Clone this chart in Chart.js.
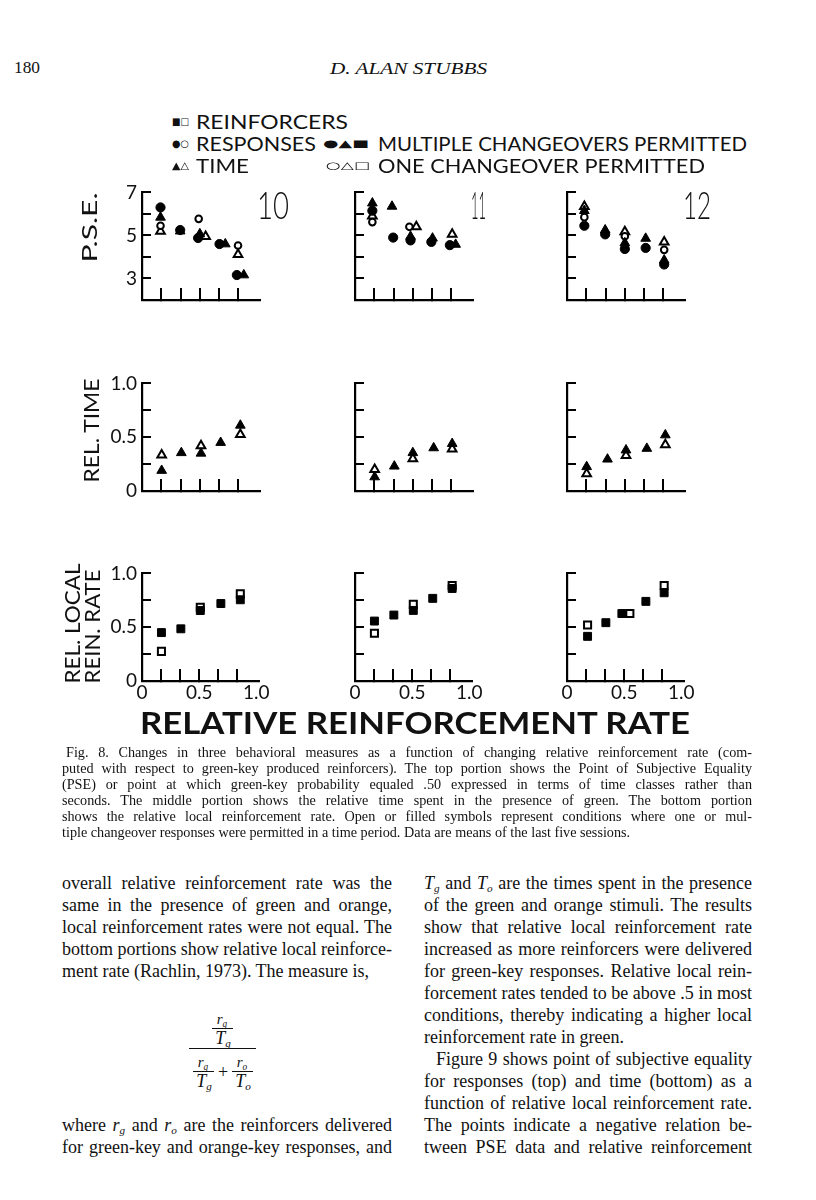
<!DOCTYPE html>
<html><head><meta charset="utf-8">
<script src="https://cdn.jsdelivr.net/npm/chart.js@4"></script>
<style>
html,body{margin:0;padding:0;background:#fff;}
#page{position:relative;width:816px;height:1200px;background:#fff;overflow:hidden;color:#111;}
.t{position:absolute;white-space:nowrap;}
.t sub{font-size:0.62em;vertical-align:-0.3em;line-height:0;font-style:italic;}
.bar{position:absolute;height:1px;background:#111;}
canvas{position:absolute;}
</style></head>
<body><div id="page"></div>
<script>
// ---------------- DATA ----------------
const subjects = ['10', '11', '12'];
const xTickValues = [0, 0.1667, 0.3333, 0.5, 0.6667, 0.8333, 1.0];
const xTickLabels = ['0', '', '', '0.5', '', '', '1.0'];
const pseTickValues = [2, 3, 4, 5, 6, 7];
const pseTickLabels = ['', '3', '', '5', '', '7'];
const relTickValues = [0, 0.25, 0.5, 0.75, 1.0];
const relTickLabels = ['0', '', '0.5', '', '1.0'];

// P.S.E. (top row) : [relative reinforcement rate, PSE]
const s10PseRespMulti = [[0.16,6.30],[0.33,5.25],[0.485,4.88],[0.67,4.60],[0.82,3.16]];
const s10PseRespOne   = [[0.16,5.45],[0.49,5.77],[0.83,4.53]];
const s10PseTimeMulti = [[0.16,5.84],[0.33,5.20],[0.50,5.07],[0.72,4.60],[0.88,3.16]];
const s10PseTimeOne   = [[0.16,5.20],[0.55,4.95],[0.83,4.12]];
const s11PseRespMulti = [[0.15,6.15],[0.33,4.90],[0.48,4.77],[0.66,4.70],[0.82,4.55]];
const s11PseRespOne   = [[0.15,5.62],[0.47,5.40]];
const s11PseTimeMulti = [[0.15,6.50],[0.32,6.35],[0.48,4.95],[0.67,4.87],[0.87,4.58]];
const s11PseTimeOne   = [[0.15,5.90],[0.53,5.40],[0.84,5.05]];
const s12PseRespMulti = [[0.15,5.45],[0.33,5.05],[0.50,4.37],[0.68,4.42],[0.84,3.65]];
const s12PseRespOne   = [[0.15,5.85],[0.50,4.96],[0.84,4.33]];
const s12PseTimeMulti = [[0.15,6.15],[0.33,5.25],[0.50,4.65],[0.68,4.86],[0.84,3.85]];
const s12PseTimeOne   = [[0.15,6.35],[0.50,5.17],[0.84,4.70]];

// Relative time (middle row)
const s10RelTimeMulti = [[0.17,0.19],[0.34,0.355],[0.51,0.35],[0.68,0.45],[0.85,0.61]];
const s10RelTimeOne   = [[0.17,0.335],[0.51,0.42],[0.85,0.525]];
const s11RelTimeMulti = [[0.17,0.13],[0.34,0.23],[0.50,0.355],[0.68,0.40],[0.84,0.44]];
const s11RelTimeOne   = [[0.17,0.20],[0.50,0.30],[0.84,0.39]];
const s12RelTimeMulti = [[0.17,0.225],[0.35,0.295],[0.51,0.38],[0.69,0.395],[0.85,0.52]];
const s12RelTimeOne   = [[0.17,0.16],[0.51,0.33],[0.85,0.43]];

// Relative local reinforcement rate (bottom row)
const s10LocalMulti = [[0.17,0.45],[0.34,0.485],[0.51,0.655],[0.69,0.72],[0.86,0.755]];
const s10LocalOne   = [[0.17,0.275],[0.51,0.685],[0.86,0.81]];
const s11LocalMulti = [[0.17,0.557],[0.34,0.613],[0.51,0.656],[0.68,0.768],[0.85,0.86]];
const s11LocalOne   = [[0.17,0.444],[0.51,0.712],[0.85,0.887]];
const s12LocalMulti = [[0.18,0.415],[0.34,0.542],[0.48,0.627],[0.69,0.74],[0.85,0.82]];
const s12LocalOne   = [[0.18,0.52],[0.55,0.627],[0.85,0.887]];

// ---------------- STYLES ----------------
const SERIF = '"Liberation Serif","Times New Roman",serif';
const SANS = 'Lato,"Liberation Sans",sans-serif';
const MK = {
  respMulti: {pointStyle:'circle',   r:4.6, bg:'#000', bc:'#000', bw:1},
  respOne:   {pointStyle:'circle',   r:3.3, bg:'#fff', bc:'#000', bw:2},
  timeMulti: {pointStyle:'triangle', r:5.6, bg:'#000', bc:'#000', bw:1},
  timeOne:   {pointStyle:'triangle', r:5.0, bg:'#fff', bc:'#000', bw:2},
  reinMulti: {pointStyle:'rect',     r:5.6, bg:'#000', bc:'#000', bw:1},
  reinOne:   {pointStyle:'rect',     r:5.0, bg:'#fff', bc:'#000', bw:2}
};

const page = document.getElementById('page');
Chart.defaults.font.family = SANS;
Chart.defaults.color = '#111';

const CW = 200, CH = 163, PADL = 60, PADT = 15, PADR = 22, XH = 30;

function panel(x0, top, series, yMin, yMax, yVals, yLabels, showY, showX) {
  const c = document.createElement('canvas');
  c.width = CW; c.height = CH;
  c.style.width = CW + 'px'; c.style.height = CH + 'px';
  c.style.left = (x0 - PADL) + 'px'; c.style.top = (top - PADT) + 'px';
  page.appendChild(c);
  const datasets = series.map(([pts, kind]) => {
    const m = MK[kind];
    return {
      data: pts.map(([x, y]) => ({x, y})),
      pointStyle: m.pointStyle, pointRadius: m.r, pointHoverRadius: m.r,
      pointBackgroundColor: m.bg, pointBorderColor: m.bc, pointBorderWidth: m.bw,
      showLine: false, clip: false
    };
  });
  new Chart(c, {
    type: 'scatter',
    data: {datasets},
    options: {
      responsive: false, animation: false, devicePixelRatio: 1,
      layout: {padding: {top: PADT, right: PADR, bottom: 0, left: 0}},
      plugins: {legend: {display: false}, tooltip: {enabled: false}},
      scales: {
        x: {
          type: 'linear', min: 0, max: 1.02,
          afterBuildTicks: s => { s.ticks = xTickValues.map(v => ({value: v})); },
          afterFit: s => { s.height = XH; },
          border: {display: true, color: '#000', width: 2.2},
          grid: {drawOnChartArea: false, drawTicks: true, tickLength: -12, lineWidth: 2,
                 color: ctx => (ctx.tick && (ctx.tick.value === 0 || ctx.tick.value === 1)) ? 'rgba(0,0,0,0)' : '#000'},
          ticks: {autoSkip: false, maxRotation: 0, minRotation: 0, padding: 12,
                  font: {size: 19}, color: '#111',
                  callback: (v, i) => showX ? xTickLabels[i] : ''}
        },
        y: {
          type: 'linear', min: yMin, max: yMax,
          afterBuildTicks: s => { s.ticks = yVals.map(v => ({value: v})); },
          afterFit: s => { s.width = PADL; },
          border: {display: true, color: '#000', width: 2.2},
          grid: {drawOnChartArea: false, drawTicks: true, tickLength: -9, lineWidth: 2,
                 color: ctx => (ctx.tick && ctx.tick.value === yMin) ? 'rgba(0,0,0,0)' : '#000'},
          ticks: {autoSkip: false, padding: 14, font: {size: 19}, color: '#111',
                  callback: (v, i) => showY ? yLabels[i] : ''}
        }
      }
    }
  });
}

const colX = [142, 355, 567];
const rowTop = [182, 372.5, 562.7];

panel(colX[0], rowTop[0], [[s10PseRespMulti,'respMulti'],[s10PseTimeMulti,'timeMulti'],[s10PseRespOne,'respOne'],[s10PseTimeOne,'timeOne']], 2, 7, pseTickValues, pseTickLabels, true, false);
panel(colX[1], rowTop[0], [[s11PseRespMulti,'respMulti'],[s11PseTimeMulti,'timeMulti'],[s11PseRespOne,'respOne'],[s11PseTimeOne,'timeOne']], 2, 7, pseTickValues, pseTickLabels, false, false);
panel(colX[2], rowTop[0], [[s12PseRespMulti,'respMulti'],[s12PseTimeMulti,'timeMulti'],[s12PseRespOne,'respOne'],[s12PseTimeOne,'timeOne']], 2, 7, pseTickValues, pseTickLabels, false, false);

panel(colX[0], rowTop[1], [[s10RelTimeMulti,'timeMulti'],[s10RelTimeOne,'timeOne']], 0, 1, relTickValues, relTickLabels, true, false);
panel(colX[1], rowTop[1], [[s11RelTimeMulti,'timeMulti'],[s11RelTimeOne,'timeOne']], 0, 1, relTickValues, relTickLabels, false, false);
panel(colX[2], rowTop[1], [[s12RelTimeMulti,'timeMulti'],[s12RelTimeOne,'timeOne']], 0, 1, relTickValues, relTickLabels, false, false);

panel(colX[0], rowTop[2], [[s10LocalMulti,'reinMulti'],[s10LocalOne,'reinOne']], 0, 1, relTickValues, relTickLabels, true, true);
panel(colX[1], rowTop[2], [[s11LocalMulti,'reinMulti'],[s11LocalOne,'reinOne']], 0, 1, relTickValues, relTickLabels, false, true);
panel(colX[2], rowTop[2], [[s12LocalMulti,'reinMulti'],[s12LocalOne,'reinOne']], 0, 1, relTickValues, relTickLabels, false, true);

// ---------------- TEXT ----------------
const items = [];
function T(html, o) {
  const d = document.createElement('div');
  d.className = 't';
  d.innerHTML = html;
  const lh = o.lh || Math.round(o.s * 1.3);
  d.style.fontFamily = o.f || SERIF;
  d.style.fontSize = o.s + 'px';
  d.style.lineHeight = lh + 'px';
  d.style.top = (o.y - lh / 2) + 'px';
  d.style.left = (o.x || 0) + 'px';
  if (o.i) d.style.fontStyle = 'italic';
  if (o.b) d.style.fontWeight = o.b;
  if (o.ls) d.style.letterSpacing = o.ls + 'px';
  page.appendChild(d);
  items.push({d, o});
  return d;
}
function fit() {
  for (const {d, o} of items) {
    d.style.wordSpacing = '';
    d.style.transform = '';
    const r = d.getBoundingClientRect();
    const w = r.width, h = r.height;
    if (o.rot) {
      d.style.left = (o.cx - w / 2) + 'px';
      d.style.top = (o.cy - h / 2) + 'px';
      d.style.transformOrigin = '50% 50%';
      d.style.transform = 'rotate(-90deg) scaleX(' + (o.len / w) + ')';
      continue;
    }
    if (o.j) {
      const n = (d.textContent.match(/ /g) || []).length;
      if (n) d.style.wordSpacing = ((o.w - w) / n) + 'px';
    } else if (o.w) {
      d.style.transformOrigin = '0 50%';
      d.style.transform = 'scaleX(' + (o.w / w) + ')';
    }
    if (o.cx !== undefined) d.style.left = (o.cx - (o.w || w) / 2) + 'px';
  }
}
function bar(x1, x2, y) {
  const b = document.createElement('div');
  b.className = 'bar';
  b.style.left = x1 + 'px'; b.style.width = (x2 - x1) + 'px'; b.style.top = y + 'px';
  page.appendChild(b);
}

// header
T('180', {x: 14, y: 68, s: 17, w: 26});
T('D. ALAN STUBBS', {x: 330, y: 68, s: 16, i: true, w: 157});

// legend
const LS = 20, SYM = 'DejaVu Sans';
T('■□', {x: 172, y: 121, s: 10, f: SYM, w: 17});
T('REINFORCERS', {x: 196, y: 121, s: LS, f: SANS, w: 152});
T('●○', {x: 172, y: 143, s: 10, f: SYM, w: 17});
T('RESPONSES', {x: 196, y: 143, s: LS, f: SANS, w: 120});
T('●▲■', {x: 323, y: 143, s: 10, f: SYM, w: 46});
T('MULTIPLE CHANGEOVERS PERMITTED', {x: 378, y: 143, s: LS, f: SANS, w: 369});
T('▲△', {x: 172, y: 165, s: 10, f: SYM, w: 17});
T('TIME', {x: 196, y: 165, s: LS, f: SANS, w: 53});
T('○△□', {x: 326, y: 165, s: 10, f: SYM, w: 44});
T('ONE CHANGEOVER PERMITTED', {x: 378, y: 165, s: LS, f: SANS, w: 327});

// subject numbers
T(subjects[0], {x: 257, y: 204, s: 38, f: SANS, b: 300, w: 32});
T(subjects[1], {x: 471, y: 204, s: 38, f: SANS, b: 300, w: 15});
T(subjects[2], {x: 683, y: 204, s: 38, f: SANS, b: 300, w: 28});

// y axis titles (rotated)
T('P.S.E.', {rot: true, cx: 89, cy: 227, len: 70, s: 22, f: SANS});
T('REL. TIME', {rot: true, cx: 90, cy: 430, len: 104, s: 22, f: SANS});
T('REL. LOCAL', {rot: true, cx: 71, cy: 623, len: 120, s: 21, f: SANS});
T('REIN. RATE', {rot: true, cx: 92, cy: 626, len: 114, s: 21, f: SANS});

// x axis title
T('RELATIVE REINFORCEMENT RATE', {x: 140, y: 722, s: 31, f: SANS, b: 700, w: 550});

// caption
const capLines = [
  'Fig. 8. Changes in three behavioral measures as a function of changing relative reinforcement rate (com-',
  'puted with respect to green-key produced reinforcers). The top portion shows the Point of Subjective Equality',
  '(PSE) or point at which green-key probability equaled .50 expressed in terms of time classes rather than',
  'seconds. The middle portion shows the relative time spent in the presence of green. The bottom portion',
  'shows the relative local reinforcement rate. Open or filled symbols represent conditions where one or mul-',
  'tiple changeover responses were permitted in a time period. Data are means of the last five sessions.'
];
capLines.forEach((ln, i) => {
  const last = i === capLines.length - 1;
  const o = {x: i === 0 ? 66 : 62, y: 752 + i * 16, s: 14.2, lh: 16};
  if (!last) { o.j = true; o.w = i === 0 ? 686 : 690; }
  T(ln, o);
});

// body, left column
const BS = 18;
const leftLines = [
  ['overall relative reinforcement rate was the', true],
  ['same in the presence of green and orange,', true],
  ['local reinforcement rates were not equal. The', true],
  ['bottom portions show relative local reinforce-', true],
  ['ment rate (Rachlin, 1973). The measure is,', false]
];
function bodyLine(html, x, y, j, w) {
  const o = {x, y, s: BS, lh: 22};
  if (j) { o.j = true; o.w = w; }
  T(html, o);
}
leftLines.forEach(([ln, j], i) => bodyLine(ln, 62, 883 + i * 22, j, 330));
bodyLine('where <i>r</i><sub>g</sub> and <i>r</i><sub>o</sub> are the reinforcers delivered', 62, 1125, true, 330);
bodyLine('for green-key and orange-key responses, and', 62, 1147, true, 330);

// equation
T('<i>r</i><sub>g</sub>', {cx: 222, y: 1019, s: 15, lh: 16});
bar(212, 233, 1028);
T('<i>T</i><sub>g</sub>', {cx: 223, y: 1038, s: 18, lh: 18});
bar(189, 256, 1048);
T('<i>r</i><sub>g</sub>', {cx: 203, y: 1062, s: 15, lh: 16});
bar(193, 214, 1071);
T('<i>T</i><sub>g</sub>', {cx: 204, y: 1081, s: 18, lh: 18});
T('+', {cx: 223, y: 1072, s: 18, lh: 18});
T('<i>r</i><sub>o</sub>', {cx: 242, y: 1062, s: 15, lh: 16});
bar(232, 253, 1071);
T('<i>T</i><sub>o</sub>', {cx: 243, y: 1081, s: 18, lh: 18});

// body, right column
const rightLines = [
  ['<i>T</i><sub>g</sub> and <i>T</i><sub>o</sub> are the times spent in the presence', true, 424],
  ['of the green and orange stimuli. The results', true, 424],
  ['show that relative local reinforcement rate', true, 424],
  ['increased as more reinforcers were delivered', true, 424],
  ['for green-key responses. Relative local rein-', true, 424],
  ['forcement rates tended to be above .5 in most', true, 424],
  ['conditions, thereby indicating a higher local', true, 424],
  ['reinforcement rate in green.', false, 424],
  ['Figure 9 shows point of subjective equality', true, 436],
  ['for responses (top) and time (bottom) as a', true, 424],
  ['function of relative local reinforcement rate.', true, 424],
  ['The points indicate a negative relation be-', true, 424],
  ['tween PSE data and relative reinforcement', true, 424]
];
rightLines.forEach(([ln, j, x], i) => bodyLine(ln, x, 883 + i * 22, j, 752 - x));

fit();
if (document.fonts && document.fonts.ready) document.fonts.ready.then(fit);
</script>
</body></html>
